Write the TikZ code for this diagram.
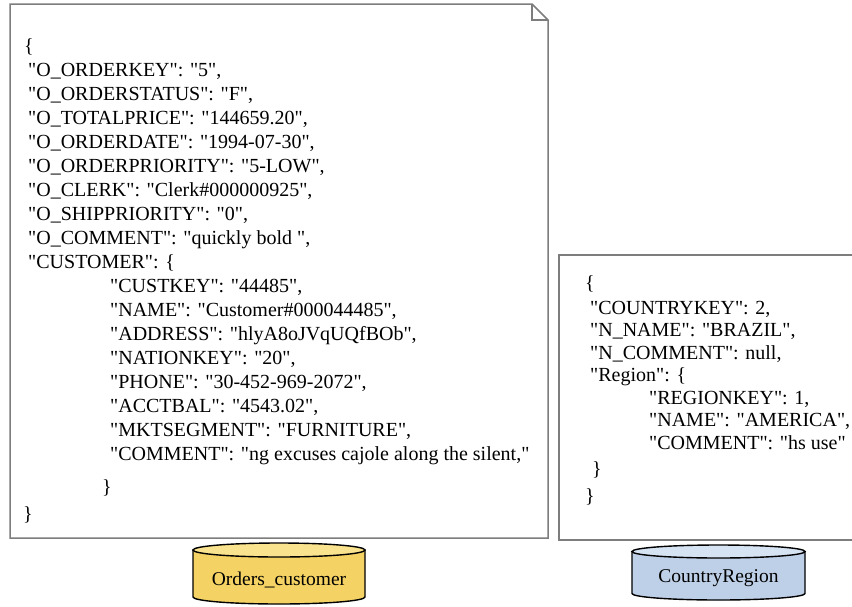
\documentclass[tikz,border=0pt]{standalone}
\usepackage{fontspec}
\setmainfont{Liberation Serif}[Ligatures=TeXOff]
\definecolor{boxgray}{RGB}{125,125,125}
\definecolor{ybody}{RGB}{244,211,100}
\definecolor{ytop}{RGB}{249,227,142}
\definecolor{bbody}{RGB}{190,208,232}
\definecolor{btop}{RGB}{214,227,243}
\begin{document}
\begin{tikzpicture}[x=1pt,y=-1pt,
  json/.style={anchor=base west, inner sep=0pt, font=\fontsize{20}{24}\selectfont},
  dbtext/.style={inner sep=0pt, font=\fontsize{19.5}{23}\selectfont},
  docline/.style={draw=boxgray, line width=1.5pt, line join=miter},
  cyl/.style={draw=black, line width=1.4pt}]
\useasboundingbox (0,0) rectangle (852,606);
\fill[white] (0,0) rectangle (852,606);

% left document with folded corner
\draw[docline] (10,4) -- (532,4) -- (548,20) -- (548,538) -- (10,538) -- cycle;
\draw[docline] (532,4) -- (532,20) -- (548,20);

% right document (right edge outside the picture)
\draw[docline] (852,255) -- (559,255) -- (559,540) -- (852,540);

% left JSON
\node[json] (a0) at (24,52) {\{};
\node[json] (a1) at (28,76) {"O\_ORDERKEY": "5",};
\node[json] (a2) at (28,100) {"O\_ORDERSTATUS": "F",};
\node[json] (a3) at (28,124) {"O\_TOTALPRICE": "144659.20",};
\node[json] (a4) at (28,148) {"O\_ORDERDATE": "1994-07-30",};
\node[json] (a5) at (28,172) {"O\_ORDERPRIORITY": "5-LOW",};
\node[json] (a6) at (28,196) {"O\_CLERK": "Clerk\#000000925",};
\node[json] (a7) at (28,220) {"O\_SHIPPRIORITY": "0",};
\node[json] (a8) at (28,244) {"O\_COMMENT": "quickly bold ",};
\node[json] (a9) at (28,268) {"CUSTOMER": \{};
\node[json] (a10) at (110,292) {"CUSTKEY": "44485",};
\node[json] (a11) at (110,316) {"NAME": "Customer\#000044485",};
\node[json] (a12) at (110,340) {"ADDRESS": "hlyA8oJVqUQfBOb",};
\node[json] (a13) at (110,364) {"NATIONKEY": "20",};
\node[json] (a14) at (110,388) {"PHONE": "30-452-969-2072",};
\node[json] (a15) at (110,412) {"ACCTBAL": "4543.02",};
\node[json] (a16) at (110,436) {"MKTSEGMENT": "FURNITURE",};
\node[json] (a17) at (110,460) {"COMMENT": "ng excuses cajole along the silent,"};
\node[json] (a18) at (102,493) {\}};
\node[json] (a19) at (23,520) {\}};

% right JSON
\node[json] (b0) at (585,289) {\{};
\node[json] (b1) at (590,314) {"COUNTRYKEY": 2,};
\node[json] (b2) at (590,336.5) {"N\_NAME": "BRAZIL",};
\node[json] (b3) at (590,359) {"N\_COMMENT": null,};
\node[json] (b4) at (590,381.5) {"Region": \{};
\node[json] (b5) at (649,404) {"REGIONKEY": 1,};
\node[json] (b6) at (649,426.5) {"NAME": "AMERICA",};
\node[json] (b7) at (649,449) {"COMMENT": "hs use"};
\node[json] (b8) at (592,475) {\}};
\node[json] (b9) at (585,502) {\}};

% yellow cylinder
\path[cyl, fill=ybody] (193,550) -- (193,597) arc[start angle=180, end angle=0, x radius=86, y radius=7] -- (365,550) -- cycle;
\draw[cyl, fill=ytop] (279,550) ellipse [x radius=86, y radius=7];
\node[dbtext] (db1) at (279,580) {Orders\_customer};

% blue cylinder
\path[cyl, fill=bbody] (632,551.5) -- (632,593.5) arc[start angle=180, end angle=0, x radius=86.5, y radius=6.5] -- (805,551.5) -- cycle;
\draw[cyl, fill=btop] (718.5,551.5) ellipse [x radius=86.5, y radius=6.5];
\node[dbtext] (db2) at (718.5,578) {CountryRegion};
\end{tikzpicture}
\end{document}
